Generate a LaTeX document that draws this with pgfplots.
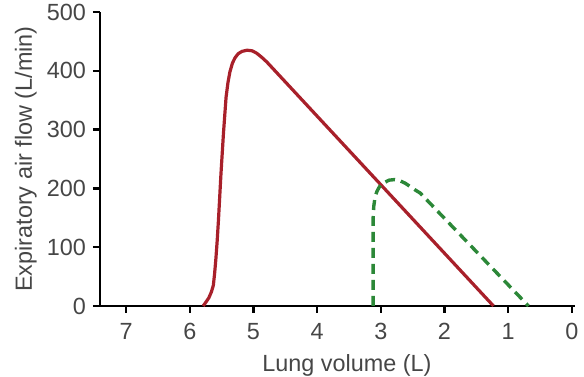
\documentclass[border=0pt]{standalone}
\usepackage{pgfplots}
\pgfplotsset{compat=1.18}
\usepackage{fontspec}
\setmainfont{Liberation Sans}
\definecolor{redc}{RGB}{168,32,42}
\definecolor{greenc}{RGB}{44,136,56}
\definecolor{txt}{RGB}{70,70,70}
\begin{document}
\begin{tikzpicture}
\begin{axis}[
  name=ax,
  scale only axis,
  width=237.5pt, height=147pt,
  x dir=reverse,
  xmin=-0.05, xmax=7.41,
  ymin=0, ymax=500,
  axis lines=left,
  axis line style={line width=1.2pt, -},
  xtick={0,1,2,3,4,5,6,7},
  ytick={0,100,200,300,400,500},
  tick align=outside,
  major tick length=3.5pt,
  tick style={line width=1.2pt, black},
  /pgf/number format/assume math mode=true,
  tick label style={font=\fontsize{11.7}{14}\selectfont, text=txt},
  xticklabel style={yshift=-1.5pt},
  xlabel={Lung volume (L)},
  ylabel={Expiratory air flow (L/min)},
  label style={font=\fontsize{11.7}{14}\selectfont, text=txt},
  xlabel style={at={(axis description cs:0.52,-0.2245)}, anchor=base},
  ylabel style={at={(axis description cs:-0.156,0.5)}, anchor=center, rotate=0},
  clip=false,
]
\addplot[color=redc, line width=1.6pt, line join=round] coordinates {
(5.79,0) (5.75,6) (5.70,14) (5.66,24) (5.63,35) (5.61,55) (5.59,80) (5.57,110) (5.55,145) (5.53,185) (5.51,225) (5.49,260) (5.47,295) (5.45,325) (5.43,355) (5.40,380) (5.37,398) (5.33,413) (5.29,422) (5.24,429) (5.18,433) (5.10,435) (5.02,434) (4.95,430) (4.87,423) (4.79,415) (1.23,0)
};
\addplot[color=greenc, line width=1.7pt, dash pattern=on 5pt off 3pt, line join=round] coordinates {
(3.12,0) (3.12,150) (3.11,170) (3.09,185) (3.06,195) (3.02,203) (2.96,209) (2.87,214) (2.78,215) (2.70,213) (2.62,209) (2.55,204) (2.47,198) (2.38,192) (0.68,0)
};
\end{axis}
\pgfresetboundingbox
\path ([shift={(-50pt,-35.5pt)}]ax.south west) rectangle ([shift={(4.5pt,6pt)}]ax.north east);
\end{tikzpicture}
\end{document}
